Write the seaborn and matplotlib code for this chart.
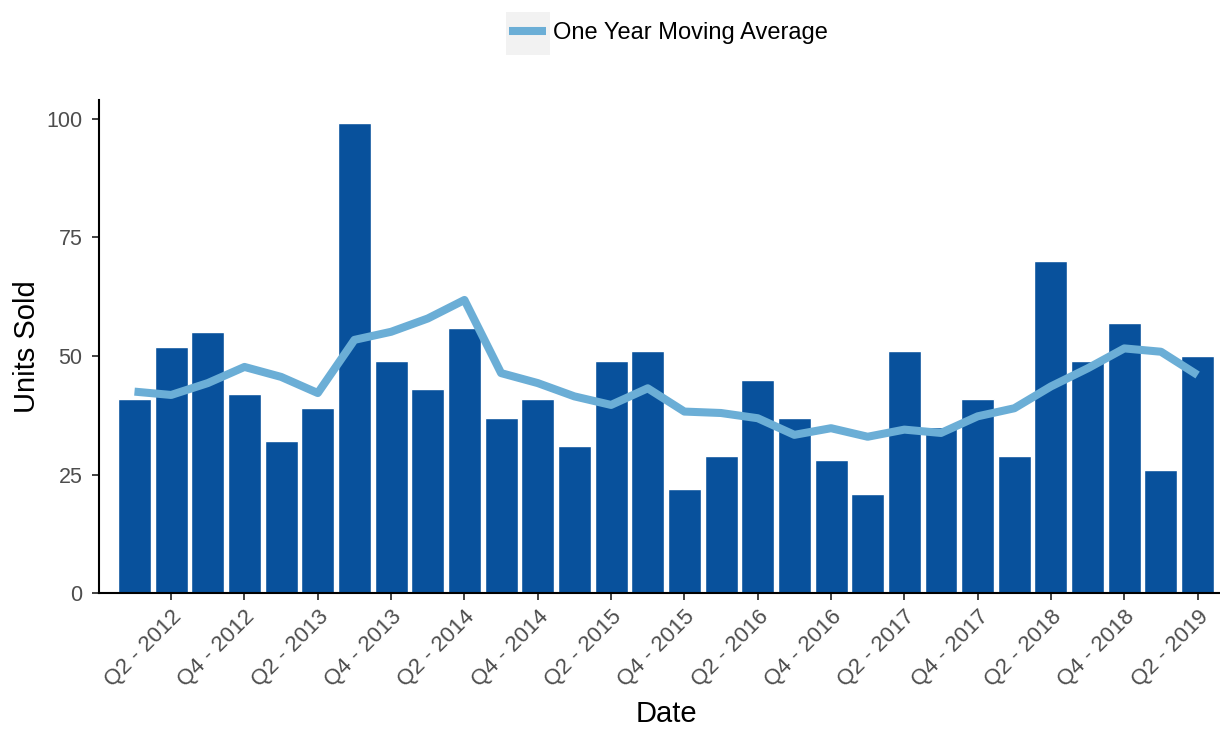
# Quarterly units sold with a one year moving average
import matplotlib.pyplot as plt
import seaborn as sns
import pandas as pd
from matplotlib.patches import Rectangle

# Data
quarters = ['Q1 - 2012', 'Q2 - 2012', 'Q3 - 2012', 'Q4 - 2012',
            'Q1 - 2013', 'Q2 - 2013', 'Q3 - 2013', 'Q4 - 2013',
            'Q1 - 2014', 'Q2 - 2014', 'Q3 - 2014', 'Q4 - 2014',
            'Q1 - 2015', 'Q2 - 2015', 'Q3 - 2015', 'Q4 - 2015',
            'Q1 - 2016', 'Q2 - 2016', 'Q3 - 2016', 'Q4 - 2016',
            'Q1 - 2017', 'Q2 - 2017', 'Q3 - 2017', 'Q4 - 2017',
            'Q1 - 2018', 'Q2 - 2018', 'Q3 - 2018', 'Q4 - 2018',
            'Q1 - 2019', 'Q2 - 2019']
units_sold = [41, 52, 55, 42, 32, 39, 99, 49, 43, 56, 37, 41, 31, 49, 51,
              22, 29, 45, 37, 28, 21, 51, 35, 41, 29, 70, 49, 57, 26, 50]
moving_avg = [42.5, 41.8, 44.3, 47.7, 45.6, 42.2, 53.4, 55.1, 57.9, 61.8,
              46.4, 44.3, 41.5, 39.7, 43.2, 38.3, 38.0, 36.9, 33.4, 34.8,
              33.0, 34.5, 33.8, 37.3, 39.0, 43.6, 47.4, 51.6, 50.9, 46.0]
tick_labels = quarters[1::2]  # every other quarter is labelled

data = pd.DataFrame({'Date': quarters, 'Units': units_sold, 'MA': moving_avg})

sns.set_theme(style='ticks')
plt.rcParams['font.family'] = ['Liberation Sans', 'DejaVu Sans']

fig = plt.figure(figsize=(12.2, 7.29), dpi=100)
ax = fig.add_axes([0.0814, 0.1859, 0.9291, 0.6769])

# Bars
sns.barplot(data=data, x='Date', y='Units', color='#08519C', width=0.9,
            saturation=1, errorbar=None, ax=ax)

# Moving average line
sns.lineplot(data=data, x='Date', y='MA', color='#6BAED6', linewidth=5.8,
             sort=False, legend=False, ax=ax)
ma_line = ax.lines[0]
ma_line.set_solid_capstyle('butt')
ma_line.set_solid_joinstyle('round')

# Axes styling
ax.set_xlim(-0.96, 29.96)
ax.set_ylim(0, 103.9)
ax.set_yticks([0, 25, 50, 75, 100])
ax.set_xticks(tick_labels)
sns.despine(ax=ax)
for side in ['left', 'bottom']:
    ax.spines[side].set_linewidth(1.5)
    ax.spines[side].set_color('black')
ax.tick_params(axis='both', length=5, width=1.3, color='#333333',
               labelcolor='#4D4D4D')
ax.tick_params(axis='y', pad=7, labelsize=15.5)
ax.tick_params(axis='x', pad=4, labelsize=16)
plt.setp(ax.get_xticklabels(), rotation=45, ha='right', va='top',
         rotation_mode='anchor')

ax.set_xlabel('Date', fontsize=21, color='black')
ax.set_ylabel('Units Sold', fontsize=21, color='black')
ax.xaxis.set_label_coords(0.5, -0.215)
ax.yaxis.set_label_coords(-0.051, 0.5)

# Legend on top with a light grey key box
fig.add_artist(Rectangle((506 / 1220, 1 - 55 / 729), 44 / 1220, 43 / 729,
                         transform=fig.transFigure, facecolor='#F2F2F2',
                         edgecolor='none', zorder=1))
fig.legend(handles=[ma_line], labels=['One Year Moving Average'],
           loc='center left', bbox_to_anchor=(509 / 1220, 1 - 33 / 729),
           frameon=False, fontsize=17, handlelength=1.55,
           handletextpad=0.3, borderpad=0, borderaxespad=0,
           labelcolor='black')

plt.savefig('out.png', dpi=100)
